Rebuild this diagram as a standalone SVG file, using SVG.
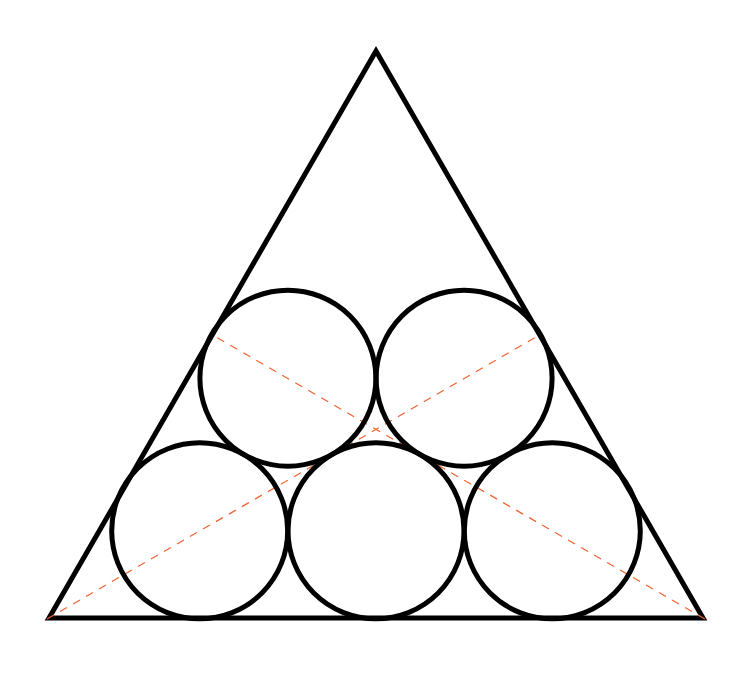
<svg xmlns="http://www.w3.org/2000/svg" width="749" height="682" viewBox="0 0 749 682">
  <style>
    .shape { fill: none; stroke: #000; stroke-width: 5; }
    .dash { fill: none; stroke: #f0622e; stroke-width: 1.2; stroke-dasharray: 8 7; }
  </style>
  <rect width="749" height="682" fill="#fff"/>
  <g id="triangle">
    <polygon class="shape" points="49,618 376,51 703,618" stroke-linejoin="miter"/>
  </g>
  <g id="connectors">
    <line class="dash" x1="47" y1="619" x2="540.5" y2="334.5"/>
    <line class="dash" x1="705" y1="619" x2="211.5" y2="334.5"/>
  </g>
  <g id="circle-bl"><circle class="shape" cx="199.7" cy="530.8" r="88"/></g>
  <g id="circle-bm"><circle class="shape" cx="376" cy="530.8" r="88"/></g>
  <g id="circle-br"><circle class="shape" cx="552.3" cy="530.8" r="88"/></g>
  <g id="circle-tl"><circle class="shape" cx="287.9" cy="378.2" r="88"/></g>
  <g id="circle-tr"><circle class="shape" cx="464.1" cy="378.2" r="88"/></g>
</svg>
